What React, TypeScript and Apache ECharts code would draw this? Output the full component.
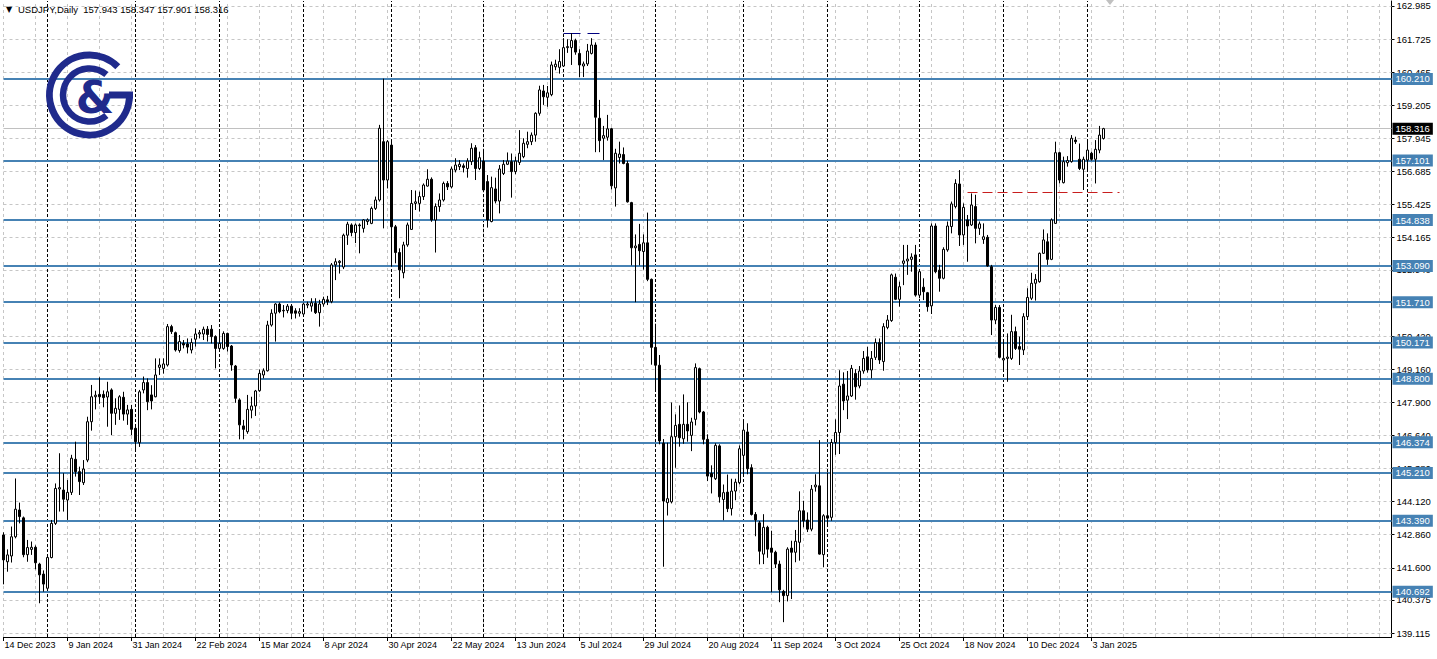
import React, { useEffect, useRef } from 'react';
import * as echarts from 'echarts';

const SYMBOL = 'USDJPY,Daily';
const HOLIDAYS = ['2023-12-25', '2024-01-01', '2024-12-25', '2025-01-01'];
const FUTURE_BARS = 72;

// [open, high, low, close] per daily bar, first bar 14 Dec 2023
const candles: number[][] = [
  [142.85, 142.95, 140.97, 141.90], [141.83, 142.30, 141.45, 142.09], [142.05, 143.17, 141.80, 142.78], [142.78, 145.00, 142.72, 143.83],
  [143.80, 144.08, 143.29, 143.55], [143.50, 143.55, 142.00, 142.10], [142.10, 142.66, 141.83, 142.37], [142.30, 142.60, 142.09, 142.38],
  [142.38, 142.45, 141.54, 141.79], [141.74, 141.79, 140.25, 141.33], [141.36, 141.50, 140.69, 140.98], [140.82, 142.03, 140.80, 141.99],
  [141.99, 143.42, 141.96, 143.29], [143.29, 144.81, 143.23, 144.62], [144.60, 145.96, 143.74, 144.65], [144.56, 145.20, 143.74, 144.21],
  [144.18, 144.94, 143.42, 144.47], [144.47, 145.90, 144.37, 145.77], [145.73, 146.40, 145.07, 145.26], [145.26, 145.45, 144.37, 144.88],
  [144.84, 145.70, 144.75, 145.36], [145.70, 147.35, 145.62, 147.16], [147.16, 148.56, 146.82, 148.11], [148.11, 148.34, 147.63, 148.17],
  [148.20, 148.85, 147.84, 148.11], [148.20, 148.35, 147.71, 148.08], [148.10, 148.68, 146.97, 148.30], [148.37, 148.43, 146.65, 147.48],
  [147.48, 148.05, 147.04, 147.67], [147.63, 148.17, 147.23, 148.11], [148.09, 148.30, 147.20, 147.45], [147.45, 147.80, 147.04, 147.61],
  [147.63, 147.80, 146.65, 146.87], [146.91, 147.03, 146.08, 146.40], [146.36, 148.37, 146.20, 148.30], [148.37, 148.88, 148.24, 148.65],
  [148.65, 148.81, 147.60, 147.92], [148.18, 148.55, 147.63, 147.95], [148.11, 149.57, 148.09, 148.94], [149.23, 149.57, 148.94, 149.32],
  [149.19, 149.57, 148.99, 149.36], [149.32, 150.88, 149.26, 150.78], [150.78, 150.85, 150.50, 150.59], [150.55, 150.59, 149.83, 149.89],
  [149.87, 150.46, 149.79, 150.21], [150.14, 150.27, 149.95, 150.08], [150.12, 150.33, 149.76, 150.00], [149.89, 150.33, 149.76, 150.17],
  [150.30, 150.71, 150.02, 150.50], [150.50, 150.65, 150.33, 150.55], [150.50, 150.78, 150.27, 150.68], [150.68, 150.80, 150.21, 150.48],
  [150.68, 150.84, 150.14, 150.40], [150.40, 150.45, 149.19, 149.95], [149.95, 150.68, 149.86, 150.14], [149.95, 150.60, 149.90, 150.52],
  [150.52, 150.55, 149.83, 150.02], [150.04, 150.08, 149.10, 149.32], [149.28, 149.32, 147.88, 148.05], [147.99, 148.05, 146.49, 147.04],
  [147.00, 147.23, 146.49, 146.87], [146.78, 148.18, 146.70, 147.63], [147.60, 148.11, 147.29, 147.76], [147.76, 148.37, 147.38, 148.33],
  [148.34, 149.15, 148.30, 149.00], [148.94, 149.19, 148.81, 149.10], [149.10, 151.00, 149.07, 150.84], [150.84, 151.44, 150.78, 151.29],
  [151.29, 151.67, 150.21, 151.64], [151.64, 151.70, 151.29, 151.35], [151.40, 151.60, 151.13, 151.38], [151.39, 151.64, 151.29, 151.56],
  [151.56, 151.64, 151.06, 151.29], [151.38, 151.48, 151.09, 151.29], [151.29, 151.48, 151.16, 151.35], [151.26, 151.69, 151.18, 151.64],
  [151.60, 151.73, 151.48, 151.64], [151.56, 151.86, 151.35, 151.69], [151.67, 151.86, 151.26, 151.31], [151.31, 151.80, 150.78, 151.64],
  [151.64, 151.92, 151.54, 151.82], [151.80, 151.95, 151.60, 151.73], [151.73, 153.20, 151.67, 153.13], [153.13, 153.38, 152.55, 153.25],
  [153.22, 153.31, 152.80, 153.27], [153.05, 154.32, 152.97, 154.26], [154.26, 154.77, 153.89, 154.68], [154.65, 154.71, 154.22, 154.36],
  [154.36, 154.71, 153.96, 154.65], [154.65, 154.71, 153.57, 154.62], [154.52, 154.87, 154.36, 154.84], [154.78, 154.90, 154.65, 154.84],
  [154.71, 155.35, 154.68, 155.28], [155.28, 155.73, 155.22, 155.60], [155.60, 158.46, 155.54, 158.33], [157.82, 160.22, 154.52, 156.36],
  [156.36, 157.88, 156.04, 157.82], [157.69, 157.82, 153.06, 154.58], [154.58, 154.65, 153.19, 153.60], [153.60, 153.76, 151.86, 152.94],
  [152.83, 154.01, 152.62, 153.89], [153.89, 154.74, 153.82, 154.65], [154.48, 155.98, 154.46, 155.47], [155.47, 155.96, 155.22, 155.53],
  [155.47, 155.92, 155.16, 155.73], [155.73, 156.23, 155.60, 156.17], [156.13, 156.77, 156.11, 156.39], [156.39, 156.46, 154.77, 154.84],
  [154.84, 155.47, 153.60, 155.35], [155.35, 155.85, 155.15, 155.60], [155.60, 156.30, 155.54, 156.23], [156.23, 156.32, 155.98, 156.10],
  [156.10, 156.87, 156.04, 156.78], [156.74, 157.19, 156.65, 156.93], [156.87, 157.12, 156.74, 156.96], [156.90, 156.99, 156.65, 156.84],
  [156.80, 157.19, 156.45, 157.08], [157.06, 157.76, 156.93, 157.57], [157.59, 157.69, 156.36, 156.80], [156.80, 157.44, 156.74, 157.21],
  [157.08, 157.44, 155.92, 155.98], [156.30, 156.55, 154.55, 154.84], [154.78, 156.49, 154.75, 156.07], [156.02, 156.45, 155.47, 155.56],
  [155.56, 156.93, 155.09, 156.78], [156.61, 157.12, 156.55, 156.96], [156.96, 157.41, 156.93, 157.08], [157.06, 157.37, 155.69, 156.68],
  [156.68, 157.25, 156.58, 157.08], [157.03, 158.26, 156.93, 157.38], [157.25, 157.95, 157.19, 157.76], [157.72, 158.20, 157.57, 157.82],
  [157.82, 158.17, 157.69, 158.07], [158.07, 158.94, 157.82, 158.90], [158.90, 159.95, 158.81, 159.79], [159.75, 159.98, 159.22, 159.53],
  [159.51, 159.94, 159.15, 159.68], [159.61, 160.87, 159.55, 160.74], [160.67, 160.94, 160.54, 160.77], [160.65, 161.34, 160.41, 160.87],
  [160.70, 161.76, 160.67, 161.40], [161.40, 161.72, 161.20, 161.44], [161.40, 161.95, 160.74, 161.67], [161.67, 161.74, 161.13, 161.23],
  [161.18, 161.34, 160.28, 160.74], [160.70, 160.87, 160.28, 160.78], [160.78, 161.54, 160.70, 161.27], [161.18, 161.76, 161.14, 161.50],
  [161.50, 161.60, 157.42, 158.75], [158.71, 159.41, 157.42, 157.86], [157.95, 158.42, 157.12, 158.05], [157.99, 158.84, 157.86, 158.31],
  [158.31, 158.35, 156.00, 156.14], [156.06, 157.55, 155.35, 157.38], [157.22, 157.82, 156.99, 157.35], [157.33, 157.60, 156.96, 156.99],
  [156.99, 157.09, 155.50, 155.53], [155.50, 155.53, 153.11, 153.78], [153.78, 154.29, 151.71, 153.85], [153.91, 154.69, 153.11, 153.67],
  [153.64, 154.29, 152.95, 153.97], [153.97, 155.12, 152.51, 152.58], [152.58, 152.61, 149.33, 149.99], [149.99, 150.89, 148.40, 149.31],
  [149.31, 149.70, 146.30, 146.43], [146.34, 146.50, 141.64, 144.14], [144.08, 146.36, 143.59, 144.23], [144.11, 147.89, 144.05, 146.59],
  [146.59, 147.44, 145.41, 147.02], [147.06, 147.78, 146.21, 146.55], [146.51, 148.20, 146.32, 147.06], [147.06, 147.90, 146.40, 146.81],
  [146.64, 147.31, 146.04, 147.15], [147.25, 149.38, 147.02, 149.22], [149.18, 149.22, 147.48, 147.53], [147.53, 147.57, 146.30, 146.49],
  [146.49, 146.68, 144.90, 145.09], [145.19, 145.50, 144.43, 145.06], [144.99, 146.34, 144.94, 146.26], [146.24, 146.30, 144.08, 144.30],
  [144.20, 144.77, 143.41, 144.46], [144.48, 145.15, 143.72, 143.85], [143.85, 144.99, 143.59, 144.52], [144.52, 144.99, 144.17, 144.86],
  [144.84, 146.26, 144.78, 146.13], [145.88, 147.19, 145.16, 146.84], [146.77, 147.10, 145.16, 145.37], [145.41, 145.54, 143.59, 143.63],
  [143.63, 143.72, 142.80, 143.42], [143.31, 143.38, 141.73, 142.23], [142.12, 143.64, 141.74, 143.14], [143.14, 143.20, 141.98, 142.31],
  [142.35, 143.01, 140.67, 142.19], [142.19, 142.25, 141.59, 141.74], [141.74, 141.87, 140.29, 140.76], [140.70, 140.76, 139.53, 140.54],
  [140.54, 142.38, 140.32, 142.31], [142.35, 142.63, 140.41, 142.19], [142.19, 143.04, 141.81, 142.61], [142.57, 144.51, 141.87, 143.77],
  [143.77, 144.15, 143.14, 143.39], [143.42, 143.71, 142.96, 143.07], [143.07, 144.75, 142.99, 144.59], [144.68, 145.16, 144.50, 144.75],
  [144.72, 146.46, 142.10, 142.12], [142.10, 143.64, 141.62, 143.58], [143.58, 145.22, 143.26, 143.49], [143.52, 146.50, 143.39, 146.37],
  [146.37, 147.25, 145.90, 146.75], [146.75, 149.12, 145.93, 148.52], [148.59, 149.04, 147.60, 147.95], [147.98, 149.09, 147.26, 148.14],
  [148.14, 149.32, 148.10, 149.19], [149.00, 149.16, 148.00, 148.49], [148.52, 149.28, 148.43, 149.09], [149.09, 149.85, 148.99, 149.57],
  [149.63, 150.01, 149.03, 149.13], [149.13, 149.85, 148.81, 149.57], [149.61, 150.33, 149.51, 150.17], [150.17, 150.33, 149.36, 149.51],
  [149.45, 150.91, 149.10, 150.78], [150.75, 151.22, 150.68, 151.03], [151.01, 152.80, 150.96, 152.75], [152.66, 152.80, 151.79, 151.82],
  [151.82, 152.49, 151.54, 152.30], [153.19, 153.89, 152.36, 153.28], [153.28, 153.89, 152.75, 153.35], [153.34, 153.57, 152.87, 153.43],
  [153.51, 153.89, 151.92, 151.98], [151.98, 152.93, 151.86, 152.87], [152.28, 152.62, 151.79, 152.11], [152.07, 152.10, 151.35, 151.54],
  [151.57, 154.71, 151.26, 154.61], [154.61, 154.71, 152.81, 152.87], [152.93, 153.13, 152.11, 152.62], [152.62, 153.80, 152.58, 153.72],
  [153.70, 154.78, 153.63, 154.61], [154.59, 155.54, 154.33, 155.45], [155.35, 156.39, 155.28, 156.23], [156.21, 156.74, 153.85, 154.27],
  [154.27, 155.47, 153.89, 155.32], [154.84, 155.03, 153.25, 154.61], [154.65, 155.85, 154.61, 155.41], [155.35, 155.80, 153.95, 154.52],
  [154.52, 154.78, 154.27, 154.69], [154.10, 154.71, 153.93, 154.20], [154.18, 154.27, 153.06, 153.09], [153.06, 153.13, 150.46, 151.03],
  [151.03, 151.60, 150.88, 151.51], [151.51, 151.60, 149.57, 149.61], [149.51, 150.21, 149.07, 149.57], [149.57, 150.52, 148.68, 149.62],
  [149.57, 151.23, 149.51, 150.59], [150.59, 150.78, 149.89, 149.95], [150.02, 150.40, 149.32, 149.92], [149.89, 151.29, 149.70, 151.16],
  [151.16, 152.24, 151.03, 151.89], [151.86, 152.83, 151.79, 152.43], [152.43, 152.78, 151.77, 152.58], [152.49, 153.60, 152.45, 153.57],
  [153.57, 154.48, 153.55, 154.08], [154.01, 154.33, 153.13, 153.34], [153.34, 154.90, 153.31, 154.84], [154.71, 157.82, 154.69, 157.40],
  [157.40, 157.44, 156.23, 156.36], [156.26, 157.25, 156.23, 157.06], [157.02, 157.27, 156.87, 157.10], [157.06, 158.07, 157.02, 157.95],
  [157.88, 158.01, 157.73, 157.82], [157.15, 157.75, 156.74, 156.80], [156.77, 157.25, 155.98, 157.15], [157.12, 157.86, 156.68, 157.50],
  [157.38, 157.44, 157.10, 157.15], [157.15, 157.88, 156.23, 157.53], [157.50, 158.42, 157.38, 158.07], [157.943, 158.347, 157.901, 158.316],
];

const xTickLabels = [
  '14 Dec 2023', '9 Jan 2024', '31 Jan 2024', '22 Feb 2024', '15 Mar 2024', '8 Apr 2024', '30 Apr 2024', '22 May 2024',
  '13 Jun 2024', '5 Jul 2024', '29 Jul 2024', '20 Aug 2024', '11 Sep 2024', '3 Oct 2024', '25 Oct 2024', '18 Nov 2024',
  '10 Dec 2024', '3 Jan 2025',
];
const yTickLabels = [
  162.985, 161.725, 160.465, 159.205, 157.945, 156.685, 155.425, 154.165, 152.94,
  150.42, 149.16, 147.9, 146.64, 145.38, 144.12, 142.86, 141.6, 140.375, 139.115,
];
const levelLines = [160.21, 157.101, 154.838, 153.09, 151.71, 150.171, 148.8, 146.374, 145.21, 143.39, 140.692];
const bidPrice = 158.316;
const redLevel = { price: 155.9, from: 241, to: 279 };
const highLevel = { price: 161.96, from: 140, to: 149 };

const Y_MIN = 138.965;
const Y_MAX = 163.175;
const NAVY = '#1f2a8c';
const STEEL = '#4682b4';
const MONTHS = ['Jan', 'Feb', 'Mar', 'Apr', 'May', 'Jun', 'Jul', 'Aug', 'Sep', 'Oct', 'Nov', 'Dec'];

function buildDates(n: number) {
  const out: { label: string; month: number }[] = [];
  const d = new Date(Date.UTC(2023, 11, 14));
  while (out.length < n) {
    const wd = d.getUTCDay();
    const iso = d.toISOString().slice(0, 10);
    if (wd !== 0 && wd !== 6 && !HOLIDAYS.includes(iso)) {
      out.push({ label: `${d.getUTCDate()} ${MONTHS[d.getUTCMonth()]} ${d.getUTCFullYear()}`, month: d.getUTCMonth() });
    }
    d.setUTCDate(d.getUTCDate() + 1);
  }
  return out;
}

export default function App() {
  const ref = useRef<HTMLDivElement>(null);
  useEffect(() => {
    document.body.style.margin = '0';
    if (!ref.current) return;
    const chart = echarts.init(ref.current, undefined, { renderer: 'svg' });
    const n = candles.length;
    const dates = buildDates(n + FUTURE_BARS);
    const cats = dates.map((d) => d.label);
    const tickSet = new Set(xTickLabels);
    const data = candles.map(([o, h, l, c]) => [o, c, l, h]);

    const gridStyle = { color: '#c6c6c6', type: [3, 3], width: 1 };
    const sepStyle = { color: '#000', type: [3, 2], width: 1 };
    const ml: any[] = [];
    yTickLabels.forEach((v) => ml.push({ yAxis: v, lineStyle: gridStyle, label: { show: false } }));
    for (let i = 0; i < cats.length; i += 8) ml.push({ xAxis: i, lineStyle: gridStyle, label: { show: false } });
    for (let i = 1; i < n; i++) {
      if (dates[i].month !== dates[i - 1].month) ml.push({ xAxis: i, lineStyle: sepStyle, label: { show: false } });
    }
    ml.push({
      yAxis: bidPrice,
      lineStyle: { color: '#c0c0c0', type: 'solid', width: 1 },
      label: {
        show: true, position: 'end', distance: 1, formatter: bidPrice.toFixed(3), color: '#fff',
        backgroundColor: '#000', padding: [1, 3, 0, 3], fontSize: 9.5, fontFamily: 'Liberation Sans', lineHeight: 11,
      },
    });
    levelLines.forEach((v) =>
      ml.push({
        yAxis: v,
        lineStyle: { color: STEEL, type: 'solid', width: 2 },
        label: {
          show: true, position: 'end', distance: 1, formatter: v.toFixed(3), color: '#fff',
          backgroundColor: STEEL, padding: [1, 3, 0, 3], fontSize: 9.5, fontFamily: 'Liberation Sans', lineHeight: 11,
        },
      })
    );
    ml.push([
      { coord: [redLevel.from, redLevel.price], lineStyle: { color: '#c81e1e', type: [10, 5], width: 1 }, label: { show: false } },
      { coord: [redLevel.to, redLevel.price] },
    ]);
    ml.push([
      { coord: [highLevel.from, highLevel.price], lineStyle: { color: '#000080', type: [17, 7], width: 1 }, label: { show: false } },
      { coord: [highLevel.to, highLevel.price] },
    ]);

    const last = candles[n - 1];
    const header = `${SYMBOL}  ${last.map((v) => v.toFixed(3)).join(' ')}`;

    const option: any = {
      animation: false,
      backgroundColor: '#ffffff',
      grid: { left: 3.5, top: 1, width: 1388, height: 636, containLabel: false },
      xAxis: {
        type: 'category',
        data: cats,
        boundaryGap: false,
        axisLine: { show: true, lineStyle: { color: '#000', width: 1 } },
        axisTick: { show: true, interval: (_i: number, v: string) => tickSet.has(v), length: 4, lineStyle: { color: '#000' } },
        axisLabel: {
          interval: (_i: number, v: string) => tickSet.has(v),
          align: 'left', color: '#000', fontSize: 9, fontFamily: 'Liberation Sans', margin: 3, padding: [0, 0, 0, 1],
        },
        splitLine: { show: false },
      },
      yAxis: {
        type: 'value',
        position: 'right',
        min: Y_MIN,
        max: Y_MAX,
        axisLine: { show: true, lineStyle: { color: '#000', width: 1 } },
        axisTick: { show: true, customValues: yTickLabels, length: 3, lineStyle: { color: '#000' } },
        axisLabel: {
          customValues: yTickLabels, formatter: (v: number) => v.toFixed(3), color: '#000',
          fontSize: 9.5, fontFamily: 'Liberation Sans', margin: 5,
        },
        splitLine: { show: false },
      },
      graphic: [
        { type: 'text', x: 6, y: 5, z: 10, style: { text: '▼', fill: '#000', font: '8px "DejaVu Sans"' } },
        { type: 'text', x: 18, y: 4, z: 10, style: { text: header, fill: '#000', font: '9.5px "Liberation Sans"' } },
        { type: 'polygon', z: 10, shape: { points: [[1106, 0], [1114, 0], [1110, 5]] }, style: { fill: '#c0c0c0' } },
        {
          type: 'arc', z: 10,
          shape: { cx: 89.5, cy: 95, r: 40, startAngle: 0, endAngle: Math.PI * 1.75, clockwise: true },
          style: { stroke: NAVY, lineWidth: 7, fill: 'none' },
        },
        { type: 'line', z: 10, shape: { x1: 109, y1: 95, x2: 133, y2: 95 }, style: { stroke: NAVY, lineWidth: 7 } },
        {
          type: 'arc', z: 10,
          shape: { cx: 89.5, cy: 95, r: 26.5, startAngle: Math.PI * 0.28, endAngle: Math.PI * 1.72, clockwise: true },
          style: { stroke: NAVY, lineWidth: 6.5, fill: 'none' },
        },
        {
          type: 'text', z: 10, x: 95, y: 97,
          style: { text: '&', fill: NAVY, font: 'bold 44px "DejaVu Sans"', align: 'center', verticalAlign: 'middle' },
        },
      ],
      series: [
        {
          type: 'candlestick',
          data,
          barWidth: 2,
          clip: false,
          z: 3,
          itemStyle: { color: '#ffffff', color0: '#000000', borderColor: '#000000', borderColor0: '#000000', borderWidth: 1 },
          markLine: {
            silent: true, symbol: 'none', z: 1, animation: false, precision: 3,
            label: { show: false },
            data: ml,
          },
        },
      ],
    };
    chart.setOption(option);
    return () => chart.dispose();
  }, []);
  return <div ref={ref} style={{ width: 1437, height: 659 }} />;
}
